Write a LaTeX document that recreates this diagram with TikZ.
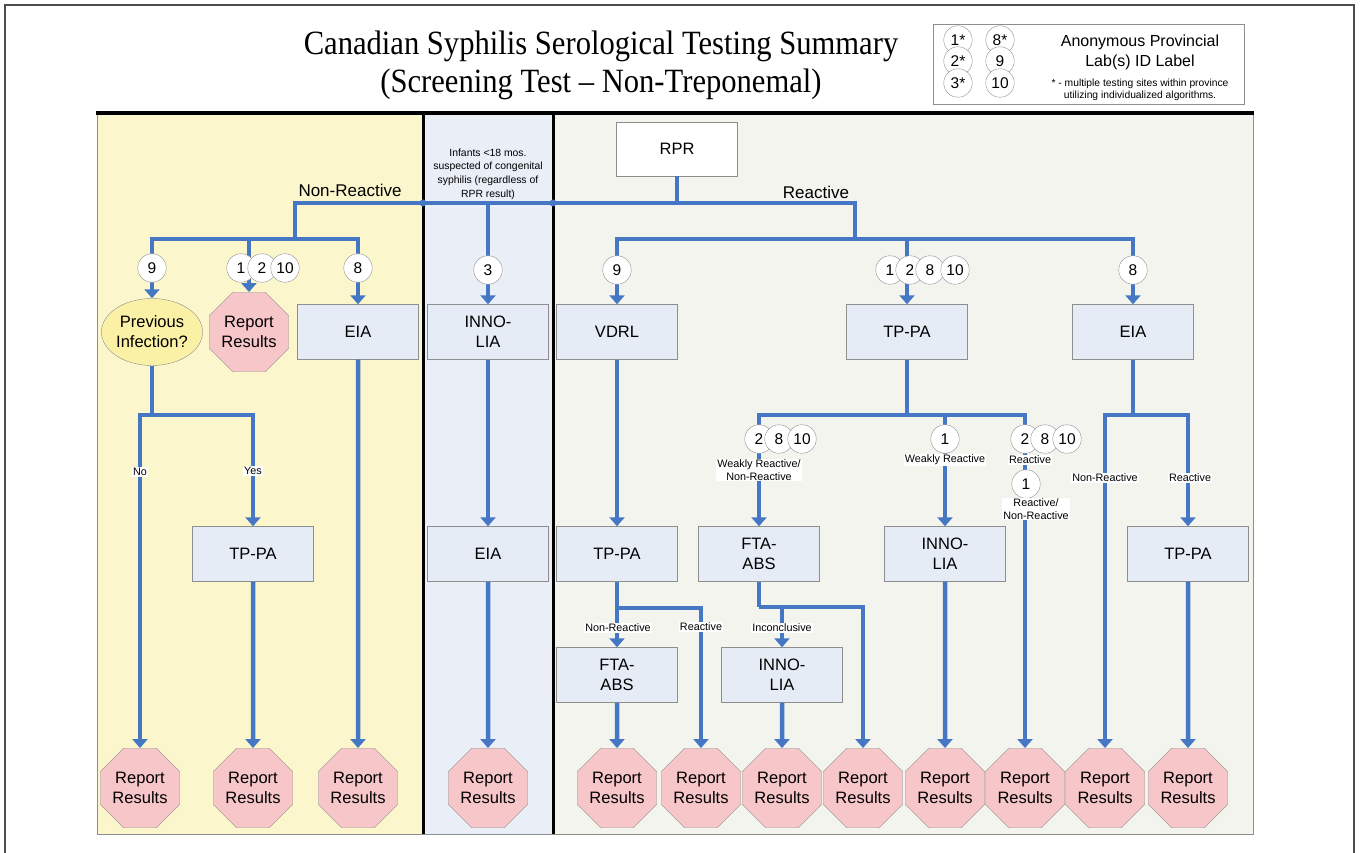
\documentclass[tikz,border=0pt]{standalone}
\usepackage{fontspec}
\setmainfont{Liberation Sans}
\newfontfamily\titlefont[FakeStretch=0.9]{Liberation Serif}
\usetikzlibrary{
    arrows.meta,
    shapes.geometric
}
\definecolor{flowblue}{HTML}{4677C4}
\definecolor{boxgrey}{HTML}{8E8E8E}
\definecolor{boxfill}{HTML}{E6ECF6}
\definecolor{octfill}{HTML}{F7C6C9}
\definecolor{ellfill}{HTML}{FAF1A6}
\definecolor{yellowpanel}{HTML}{FCF6CC}
\definecolor{bluepanel}{HTML}{E9EEF7}
\definecolor{greypanel}{HTML}{F3F4EE}
\tikzset{
    testbox/.style={rectangle, draw=boxgrey, fill=boxfill, minimum width=121pt, minimum height=55pt, align=center, font=\fontsize{16.5}{20}\selectfont},
    report/.style={regular polygon, regular polygon sides=8, minimum size=86pt, inner sep=0pt, draw=boxgrey, fill=octfill, align=center, font=\fontsize{16.5}{20}\selectfont},
    lab/.style={circle, draw=boxgrey, fill=white, minimum size=28.5pt, inner sep=0pt, font=\fontsize{15.5}{15.5}\selectfont},
    flow/.style={draw=flowblue, line width=4.5pt},
    arr/.style={flow, -{Triangle[width=15pt,length=9pt]}},
    tag/.style={fill=white, inner sep=1pt, align=center, font=\fontsize{10.8}{13}\selectfont}
}

\begin{document}
\begin{tikzpicture}[x=1pt, y=-1pt]
    \useasboundingbox (0,0) rectangle (1361,853);

    % frame and panels
    \draw[black!70, line width=1.5pt] (5,853) -- (5,5) -- (1354,5) -- (1354,853);
    \draw[boxgrey, fill=yellowpanel] (97,113) rectangle (423,834);
    \draw[boxgrey, fill=bluepanel] (423,113) rectangle (553,834);
    \draw[boxgrey, fill=greypanel] (553,113) rectangle (1253,834);
    \draw[line width=3pt]
    (423,113) -- (423,834)
    (553,113) -- (553,834);
    \draw[line width=4pt] (96,113) -- (1254,113);

    % title and key
    \node[font=\titlefont\fontsize{34}{38}\selectfont, align=center] (title) at (601,65)
        {Canadian Syphilis Serological Testing Summary\\(Screening Test – Non-Treponemal)};
    \node[draw=boxgrey, fill=white, minimum width=311pt, minimum height=80pt] (key) at (1088.5,64) {};
    \node[lab] (k1) at (958,40) {1*};
    \node[lab] (k2) at (958,61) {2*};
    \node[lab] (k3) at (958,83) {3*};
    \node[lab] (k8) at (1000,40) {8*};
    \node[lab] (k9) at (1000,61) {9};
    \node[lab] (k10) at (1000,83) {10};
    \node[font=\fontsize{16}{20}\selectfont, align=center] (keyhead) at (1140,52) {Anonymous Provincial\\Lab(s) ID Label};
    \node[font=\fontsize{10.3}{11.5}\selectfont, align=center] (keynote) at (1140,90)
        {* - multiple testing sites within province\\utilizing individualized algorithms.};

    % tests
    \node[testbox, fill=white, minimum height=54pt] (rpr) at (677,149) {RPR};
    \node[ellipse, draw=boxgrey, fill=ellfill, minimum width=100pt, minimum height=67pt, inner sep=0pt, align=center, font=\fontsize{16.5}{20}\selectfont] (prev) at (152,332) {Previous\\Infection?};
    \node[report] (rep0) at (249,332) {Report\\Results};
    \node[testbox] (eiaL) at (358,332) {EIA};
    \node[testbox] (innoM) at (488,332) {INNO-\\LIA};
    \node[testbox] (vdrl) at (617,332) {VDRL};
    \node[testbox] (tppaR) at (907,332) {TP-PA};
    \node[testbox] (eiaR) at (1133,332) {EIA};

    \node[testbox] (tppaL) at (253,554) {TP-PA};
    \node[testbox] (eiaM) at (488,554) {EIA};
    \node[testbox] (tppaV) at (617,554) {TP-PA};
    \node[testbox] (ftaR) at (759,554) {FTA-\\ABS};
    \node[testbox] (innoR) at (945,554) {INNO-\\LIA};
    \node[testbox] (tppaE) at (1188,554) {TP-PA};

    \node[testbox] (ftaV) at (617,675) {FTA-\\ABS};
    \node[testbox] (innoF) at (782,675) {INNO-\\LIA};

    \node[report] (r1) at (140,788) {Report\\Results};
    \node[report] (r2) at (253,788) {Report\\Results};
    \node[report] (r3) at (358,788) {Report\\Results};
    \node[report] (r4) at (488,788) {Report\\Results};
    \node[report] (r5) at (617,788) {Report\\Results};
    \node[report] (r6) at (701,788) {Report\\Results};
    \node[report] (r7) at (782,788) {Report\\Results};
    \node[report] (r8) at (863,788) {Report\\Results};
    \node[report] (r9) at (945,788) {Report\\Results};
    \node[report] (r10) at (1025,788) {Report\\Results};
    \node[report] (r11) at (1105,788) {Report\\Results};
    \node[report] (r12) at (1188,788) {Report\\Results};

    % junctions
    \coordinate (top) at (677,203);
    \coordinate (nrL) at (295,203);
    \coordinate (rR) at (855,203);
    \coordinate (nrb) at (295,239);
    \coordinate (rb) at (855,239);
    \coordinate (inf) at (488,203);
    \coordinate (pj) at (152,415);
    \coordinate (tj) at (907,415);
    \coordinate (ej) at (1133,415);
    \coordinate (vj) at (617,608);
    \coordinate (fj) at (759,607);

    % connectors
    \draw[flow] (rpr.south) -- (top);
    \draw[flow] (nrb) -- (nrL) -- (rR) -- (rb);
    \fill[flowblue] (423,203) circle (3.5pt) (553,203) circle (3.5pt);

    \draw[arr] (nrb) -| (prev.north);
    \draw[arr] (nrb) -| (rep0.north);
    \draw[arr] (nrb) -| (eiaL.north);
    \draw[flow] (prev.south) -- (pj);
    \draw[arr] (pj) -| (r1.north);
    \draw[arr] (pj) -| (tppaL.north);
    \draw[arr] (tppaL.south) -- (r2.north);
    \draw[arr] (eiaL.south) -- (r3.north);

    \draw[arr] (inf) -- (innoM.north);
    \draw[arr] (innoM.south) -- (eiaM.north);
    \draw[arr] (eiaM.south) -- (r4.north);

    \draw[arr] (rb) -| (vdrl.north);
    \draw[arr] (rb) -| (tppaR.north);
    \draw[arr] (rb) -| (eiaR.north);
    \draw[arr] (vdrl.south) -- (tppaV.north);
    \draw[flow] (tppaV.south) -- (vj);
    \draw[arr] (vj) -| (ftaV.north);
    \draw[arr] (vj) -| (r6.north);
    \draw[arr] (ftaV.south) -- (r5.north);

    \draw[flow] (tppaR.south) -- (tj);
    \draw[arr] (tj) -| (ftaR.north);
    \draw[arr] (tj) -| (innoR.north);
    \draw[arr] (tj) -| (r10.north);
    \draw[flow] (ftaR.south) -- (fj);
    \draw[arr] (fj) -| (innoF.north);
    \draw[arr] (fj) -| (r8.north);
    \draw[arr] (innoF.south) -- (r7.north);
    \draw[arr] (innoR.south) -- (r9.north);

    \draw[flow] (eiaR.south) -- (ej);
    \draw[arr] (ej) -| (r11.north);
    \draw[arr] (ej) -| (tppaE.north);
    \draw[arr] (tppaE.south) -- (r12.north);

    % lab labels
    \node[lab] (a9) at (152,268) {9};
    \node[lab] (a1) at (241,268) {1};
    \node[lab] (a2) at (262,268) {2};
    \node[lab] (a10) at (285,268) {10};
    \node[lab] (a8) at (358,268) {8};
    \node[lab] (b3) at (488,270) {3};
    \node[lab] (c9) at (617,270) {9};
    \node[lab] (c1) at (890,270) {1};
    \node[lab] (c2) at (910,270) {2};
    \node[lab] (c8) at (930,270) {8};
    \node[lab] (c10) at (955,270) {10};
    \node[lab] (d8) at (1133,270) {8};
    \node[lab] (e2) at (759,439) {2};
    \node[lab] (e8) at (779,439) {8};
    \node[lab] (e10) at (802,439) {10};
    \node[lab] (f1) at (945,439) {1};
    \node[lab] (g2) at (1025,439) {2};
    \node[lab] (g8) at (1045,439) {8};
    \node[lab] (g10) at (1067,439) {10};

    % result labels
    \node[font=\fontsize{17}{17}\selectfont] (nonreact) at (350,190) {Non-Reactive};
    \node[font=\fontsize{17}{17}\selectfont] (react) at (816,192) {Reactive};
    \node[font=\fontsize{10.4}{13.7}\selectfont, align=center] (infants) at (488,174)
        {Infants <18 mos.\\suspected of congenital\\syphilis (regardless of\\RPR result)};
    \node[tag] (no) at (140,472) {No};
    \node[tag] (yes) at (253,471) {Yes};
    \node[tag] (wnr) at (759,470) {Weakly Reactive/\\Non-Reactive};
    \node[tag] (wr) at (945,460) {Weakly Reactive};
    \node[tag] (rx) at (1030,460) {Reactive};
    \node[lab] (h1) at (1026,484) {1};
    \node[tag] (rnr) at (1036,509) {Reactive/\\Non-Reactive};
    \node[tag] (enr) at (1105,478) {Non-Reactive};
    \node[tag] (er) at (1190,478) {Reactive};
    \node[tag] (vnr) at (618,628) {Non-Reactive};
    \node[tag] (vr) at (701,627) {Reactive};
    \node[tag] (inc) at (782,628) {Inconclusive};
\end{tikzpicture}
\end{document}
